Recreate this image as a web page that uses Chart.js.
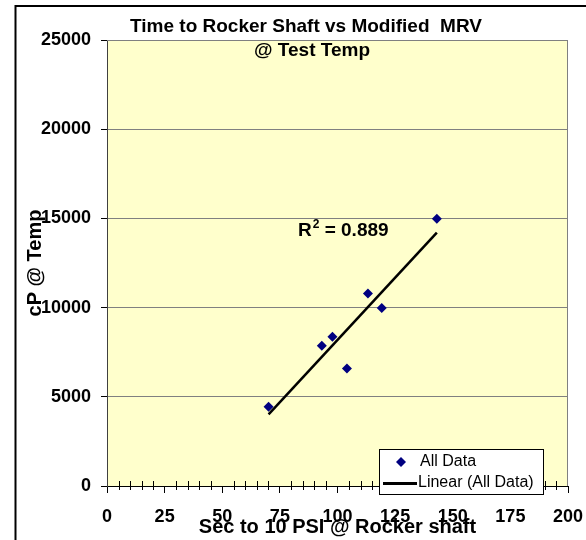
<!DOCTYPE html>
<html>
<head>
<meta charset="utf-8">
<script src="https://cdn.jsdelivr.net/npm/chart.js@4.4.1/dist/chart.umd.min.js"></script>
<style>
  html, body { margin: 0; padding: 0; background: #fff; }
  canvas { display: block; }
</style>
</head>
<body>
<canvas id="mrvChart" width="586" height="540"></canvas>
<script>
// seconds to 10 PSI at rocker shaft
const secToPsi = [70.1, 93.2, 97.8, 104.1, 113.2, 119.2, 143.1];
// cP at test temp
const cpAtTemp = [4440, 7855, 8360, 6590, 10790, 9980, 14980];
const xTicks = [0, 25, 50, 75, 100, 125, 150, 175, 200];
const yTicks = [0, 5000, 10000, 15000, 20000, 25000];
const titleLines = ['Time to Rocker Shaft vs Modified  MRV', '@ Test Temp'];
const r2Text = '0.889';

const FONT = "'Liberation Sans', Arial, sans-serif";

// least squares trend line
function trend(xs, ys) {
    const n = xs.length;
    const mx = xs.reduce((a, b) => a + b, 0) / n;
    const my = ys.reduce((a, b) => a + b, 0) / n;
    let sxy = 0, sxx = 0;
    for (let i = 0; i < n; i++) {
        sxy += (xs[i] - mx) * (ys[i] - my);
        sxx += (xs[i] - mx) * (xs[i] - mx);
    }
    const slope = sxy / sxx;
    const x0 = Math.min(...xs), x1 = Math.max(...xs);
    return [
        { x: x0, y: my + slope * (x0 - mx) },
        { x: x1, y: my + slope * (x1 - mx) }
    ];
}

const points = secToPsi.map((x, i) => ({ x: x, y: cpAtTemp[i] }));

const decor = {
    id: 'decor',
    beforeDraw(chart) {
        const ctx = chart.ctx;
        const a = chart.chartArea;
        ctx.save();
        ctx.fillStyle = '#fff';
        ctx.fillRect(0, 0, chart.width, chart.height);
        ctx.fillStyle = '#FFFFCC';
        ctx.fillRect(a.left, a.top, a.right - a.left, a.bottom - a.top);
        // outer frame
        ctx.strokeStyle = '#000';
        ctx.lineWidth = 2;
        ctx.strokeRect(15.5, 6, 800, 800);
        ctx.restore();
    },
    beforeDatasetsDraw(chart) {
        const ctx = chart.ctx;
        const a = chart.chartArea;
        const xs = chart.scales.x;
        ctx.save();
        ctx.strokeStyle = '#808080';
        ctx.lineWidth = 1;
        ctx.beginPath();
        ctx.moveTo(a.left, a.top + 0.5);
        ctx.lineTo(a.right - 0.5, a.top + 0.5);
        ctx.lineTo(a.right - 0.5, a.bottom);
        ctx.stroke();
        // minor ticks on x axis every 5
        ctx.strokeStyle = '#000';
        ctx.beginPath();
        for (let v = xs.min; v <= xs.max; v += 5) {
            if (v % 25 === 0) continue;
            const px = Math.round(xs.getPixelForValue(v)) + 0.5;
            ctx.moveTo(px, a.bottom - 5);
            ctx.lineTo(px, a.bottom + 4);
        }
        ctx.stroke();
        ctx.restore();
    },
    afterDraw(chart) {
        const ctx = chart.ctx;
        ctx.save();
        ctx.fillStyle = '#000';
        ctx.textBaseline = 'alphabetic';
        ctx.textAlign = 'center';
        ctx.font = 'bold 19px ' + FONT;
        ctx.fillText(titleLines[0], 306, 32);
        ctx.fillText(titleLines[1], 312, 56);

        // R squared label
        ctx.textAlign = 'left';
        let rx = 298, ry = 235.5;
        ctx.font = 'bold 19px ' + FONT;
        ctx.fillText('R', rx, ry);
        rx += ctx.measureText('R').width;
        ctx.font = 'bold 12px ' + FONT;
        ctx.fillText('2', rx + 1, ry - 8);
        rx += ctx.measureText('2').width + 1;
        ctx.font = 'bold 19px ' + FONT;
        ctx.fillText(' = ' + r2Text, rx, ry);

        // legend
        const ds = chart.data.datasets;
        const bx = 379.5, by = 449.5, bw = 164, bh = 45;
        ctx.fillStyle = '#fff';
        ctx.fillRect(bx, by, bw, bh);
        ctx.strokeStyle = '#000';
        ctx.lineWidth = 1;
        ctx.strokeRect(bx, by, bw, bh);
        ctx.fillStyle = ds[0].backgroundColor;
        ctx.beginPath();
        ctx.moveTo(401, 457);
        ctx.lineTo(406, 462);
        ctx.lineTo(401, 467);
        ctx.lineTo(396, 462);
        ctx.closePath();
        ctx.fill();
        ctx.strokeStyle = ds[1].borderColor;
        ctx.lineWidth = 3;
        ctx.beginPath();
        ctx.moveTo(383, 483.5);
        ctx.lineTo(417, 483.5);
        ctx.stroke();
        ctx.fillStyle = '#000';
        ctx.font = '16px ' + FONT;
        ctx.textBaseline = 'middle';
        ctx.fillText(ds[0].label, 420, 462);
        ctx.fillText(ds[1].label, 418, 483);
        ctx.restore();
    }
};

new Chart(document.getElementById('mrvChart'), {
    type: 'scatter',
    data: {
        datasets: [{
            label: 'All Data',
            data: points,
            pointStyle: 'rectRot',
            pointRadius: 5,
            backgroundColor: '#000080',
            borderColor: '#000080',
            borderWidth: 0,
            order: 1
        }, {
            type: 'line',
            label: 'Linear (All Data)',
            data: trend(secToPsi, cpAtTemp),
            borderColor: '#000',
            borderWidth: 2.5,
            pointRadius: 0,
            fill: false,
            order: 2
        }]
    },
    plugins: [decor],
    options: {
        responsive: false,
        animation: false,
        devicePixelRatio: 1,
        layout: {
            padding: { top: 40, right: 18, bottom: 0, left: 0 }
        },
        plugins: {
            legend: { display: false },
            tooltip: { enabled: false },
            title: { display: false }
        },
        scales: {
            x: {
                type: 'linear',
                min: 0,
                max: 200,
                afterBuildTicks: (s) => { s.ticks = xTicks.map(v => ({ value: v })); },
                afterFit: (s) => {
                    s.height = 54;
                    s.paddingLeft = 0;
                    s.paddingRight = 0;
                },
                ticks: {
                    color: '#000',
                    padding: 13,
                    maxRotation: 0,
                    callback: (v) => String(v),
                    font: { family: FONT, size: 18, weight: 'bold' }
                },
                grid: {
                    drawOnChartArea: false,
                    tickLength: 7,
                    tickColor: '#000'
                },
                border: { color: '#000', width: 1 },
                title: {
                    display: true,
                    text: 'Sec to 10 PSI @ Rocker shaft',
                    color: '#000',
                    padding: { top: 0, bottom: 1 },
                    font: { family: FONT, size: 20, weight: 'bold' }
                }
            },
            y: {
                min: 0,
                max: 25000,
                afterBuildTicks: (s) => { s.ticks = yTicks.map(v => ({ value: v })); },
                afterFit: (s) => {
                    s.width = 107;
                    s.paddingTop = 0;
                    s.paddingBottom = 0;
                },
                ticks: {
                    color: '#000',
                    padding: 10,
                    callback: (v) => String(v),
                    font: { family: FONT, size: 18, weight: 'bold' }
                },
                grid: {
                    color: '#808080',
                    tickColor: '#000',
                    tickLength: 6
                },
                border: { color: '#404040', width: 1 },
                title: {
                    display: true,
                    text: 'cP @ Temp',
                    color: '#000',
                    padding: { top: 23, bottom: 0 },
                    font: { family: FONT, size: 20, weight: 'bold' }
                }
            }
        }
    }
});
</script>
</body>
</html>
